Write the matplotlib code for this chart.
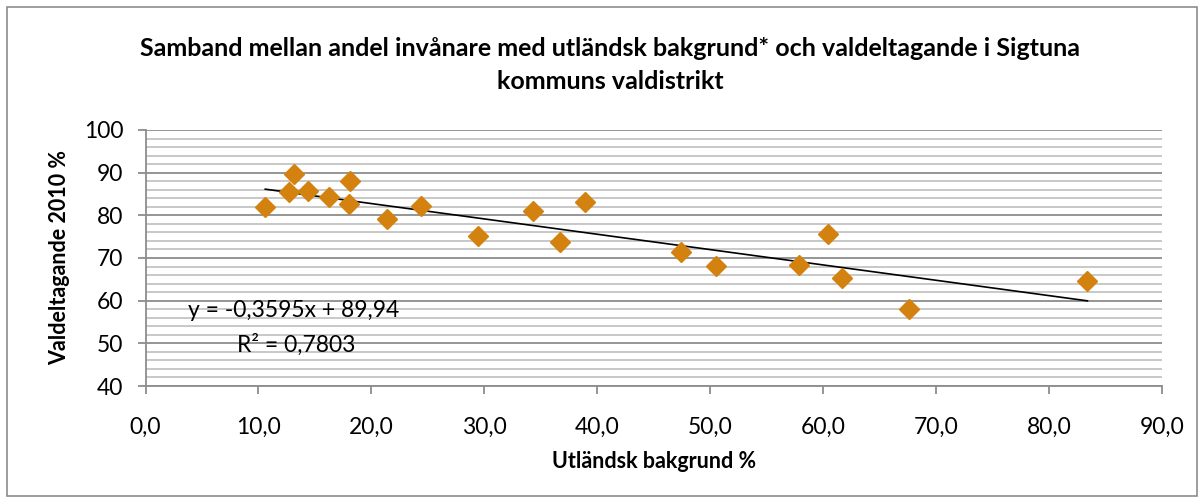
import matplotlib
matplotlib.use("Agg")
import matplotlib.pyplot as plt
from matplotlib.patches import Rectangle
from matplotlib.ticker import MultipleLocator, FuncFormatter

# andel med utländsk bakgrund (%) och valdeltagande 2010 (%) per valdistrikt
utlandsk = [10.6, 12.7, 13.1, 14.4, 16.2, 18.1, 18.0, 21.4, 24.4, 29.4,
            34.3, 36.7, 38.9, 47.4, 50.5, 57.9, 60.4, 61.7, 67.6, 83.4]
valdeltagande = [81.9, 85.5, 89.7, 85.8, 84.4, 88.1, 82.6, 79.2, 82.3, 75.2,
                 81.0, 73.7, 83.1, 71.4, 68.2, 68.4, 75.7, 65.3, 58.1, 64.7]

# linjär trendlinje enligt diagrammet
slope = -0.3595
intercept = 89.94
r2 = 0.7803

title = "Samband mellan andel invånare med utländsk bakgrund* och valdeltagande i Sigtuna\nkommuns valdistrikt"
xlabel = "Utländsk bakgrund %"
ylabel = "Valdeltagande 2010 %"

plt.rcParams['font.family'] = ['Lato', 'DejaVu Sans']

fig = plt.figure(figsize=(12.04, 5.03), dpi=100)
ax = fig.add_axes([0.1209, 0.2326, 0.8442, 0.509])

# gridlines: major every 10, minor every 2
ax.set_xlim(0, 90)
ax.set_ylim(40, 100)
ax.xaxis.set_major_locator(MultipleLocator(10))
ax.yaxis.set_major_locator(MultipleLocator(10))
ax.yaxis.set_minor_locator(MultipleLocator(2))
ax.grid(axis='y', which='minor', color='#c4c4c4', lw=1.3)
ax.grid(axis='y', which='major', color='#8c8c8c', lw=1.3)
ax.set_axisbelow(True)

ax.xaxis.set_major_formatter(FuncFormatter(lambda v, p: "{:.1f}".format(v).replace('.', ',')))

for s in ['top', 'right']:
    ax.spines[s].set_visible(False)
for s in ['left', 'bottom']:
    ax.spines[s].set_color('#8c8c8c')
    ax.spines[s].set_linewidth(1.3)

ax.tick_params(axis='both', which='major', direction='out', length=6, width=1.3,
               color='#8c8c8c', labelsize=16.5, labelcolor='black')
ax.tick_params(axis='y', which='minor', length=0)
ax.tick_params(axis='y', pad=10)
ax.tick_params(axis='x', pad=16)

# trendline
x0, x1 = min(utlandsk), max(utlandsk)
ax.plot([x0, x1], [slope * x0 + intercept, slope * x1 + intercept], c='black', lw=1.2, zorder=2)

ax.plot(utlandsk, valdeltagande, ls='none', marker='D', ms=10.5, color='#d4820f',
        mec='#d4820f', zorder=3, clip_on=False)

eq = "y = {}x + {}".format(str(slope).replace('.', ','), str(intercept).replace('.', ','))
ax.text(0.042, 0.293, eq, transform=ax.transAxes, fontsize=16.5, va='center')
ax.text(0.09, 0.163, "R² = {}".format(str(r2).replace('.', ',')), transform=ax.transAxes,
        fontsize=16.5, va='center')

ax.set_xlabel(xlabel, fontsize=15.5, fontweight='bold', labelpad=10)
ax.set_ylabel(ylabel, fontsize=15.5, fontweight='bold', labelpad=10)

fig.text(610 / 1204, 1 - 65 / 503, title, ha='center', va='center', fontsize=18,
         fontweight='bold', linespacing=1.5)

fig.patches.append(Rectangle((7 / 1204, 7 / 503), 1190 / 1204, 489 / 503, transform=fig.transFigure,
                             fill=False, ec='#8c8c8c', lw=1.2))

fig.savefig("out.png", dpi=100)
